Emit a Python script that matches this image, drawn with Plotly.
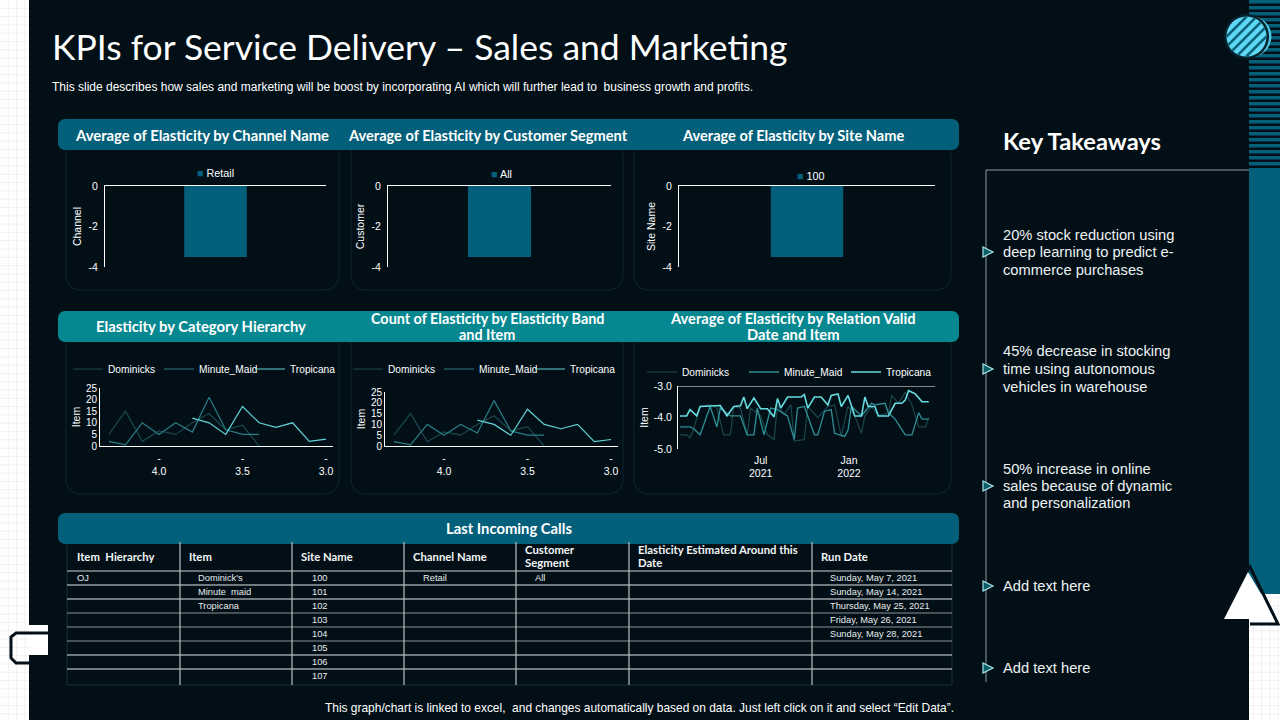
import math
import pandas as pd
import plotly.graph_objects as go

# ---------- data ----------
bar_titles = ["Channel", "Customer", "Site Name"]
bar_names = ["Retail", "All", "100"]
bar_values = [-3.5, -3.5, -3.5]

band_labels = [4.3, 4.2, 4.1, 4.0, 3.9, 3.8, 3.7, 3.6, 3.5, 3.4, 3.3, 3.2, 3.1, 3.0]
band_ticks = [4.0, 3.5, 3.0]
band_ticktext = ["-<br>4.0", "-<br>3.5", "-<br>3.0"]
dominicks_counts = [5, 15, 2, 6.5, 5, 10, 14, 7, 9, 0, None, None, None, None]
minute_counts = [2, 0.5, 10, 5, 10, 6, 21, 7, 5, 5, None, None, None, None]
tropicana_counts = [None, None, None, None, None, 12, 10, 5, 17, 10, 8, 10, 2, 3]

dom_weeks = [0, 2, 3, 4, 6, 9, 11, 13, 15, 16, 18, 20, 21, 24, 26, 28, 29, 31, 33, 34, 37, 38, 41, 44, 46, 48, 50, 52,
             54, 55, 57, 59, 62, 63, 65, 67, 69, 71, 73, 74]
dom_vals = [-4.55, -4.55, -4.65, -4.4, -3.65, -3.6, -3.7, -4.55, -4.55, -3.65, -3.7, -4.55, -3.7, -3.95, -4.55, -4.7,
            -3.6, -3.9, -3.6, -4.75, -4.7, -3.65, -4.0, -3.65, -3.6, -4.6, -3.65, -3.95, -4.5, -3.95, -3.65, -3.95,
            -3.85, -3.3, -3.55, -3.2, -3.6, -4.3, -4.3, -4.0]
min_weeks = [0, 3, 4, 6, 9, 11, 12, 15, 18, 20, 22, 23, 25, 27, 29, 32, 34, 35, 37, 40, 41, 43, 45, 46, 49, 50, 51, 54,
             57, 58, 61, 62, 64, 67, 69, 71, 72, 74]
min_vals = [-4.3, -4.3, -4.35, -4.55, -3.65, -4.3, -3.7, -3.95, -3.95, -4.55, -4.55, -3.7, -4.55, -3.7, -3.75, -3.95,
            -4.7, -3.7, -3.65, -4.55, -4.55, -3.8, -3.75, -4.5, -4.6, -4.4, -3.65, -3.95, -3.55, -3.6, -3.55, -3.85,
            -4.05, -4.55, -4.55, -3.85, -4.05, -4.05]
tro_weeks = [0, 2, 3, 5, 6, 12, 14, 16, 18, 19, 20, 22, 24, 26, 28, 29, 30, 32, 36, 37, 38, 40, 42, 44, 45, 47, 48, 50,
             52, 54, 55, 56, 58, 59, 62, 64, 66, 67, 68, 70, 72, 74]
tro_vals = [-3.95, -3.95, -3.75, -3.95, -3.65, -3.62, -3.95, -3.65, -3.63, -3.35, -3.72, -3.38, -3.72, -3.72, -3.98,
            -3.4, -3.7, -3.35, -3.35, -3.27, -3.7, -3.35, -3.35, -3.6, -3.3, -3.25, -3.65, -3.3, -3.95, -3.95, -3.35,
            -3.65, -3.65, -3.95, -3.95, -3.55, -3.55, -3.45, -3.15, -3.25, -3.5, -3.5]
date_start = "2021-01-14"

table_headers = ["Item  Hierarchy", "Item", "Site Name", "Channel Name", "Customer<br>Segment",
                 "Elasticity Estimated Around this<br>Date", "Run Date"]
col_hierarchy = ["OJ"]
col_item = ["Dominick's", "Minute  maid", "Tropicana"]
col_site = ["100", "101", "102", "103", "104", "105", "106", "107"]
col_channel = ["Retail"]
col_segment = ["All"]
col_rundate = ["Sunday, May 7, 2021", "Sunday, May 14, 2021", "Thursday, May 25, 2021", "Friday, May 26, 2021",
               "Sunday, May 28, 2021"]

takeaways = ["20% stock reduction using<br>deep learning to predict e-<br>commerce purchases",
             "45% decrease in stocking<br>time using autonomous<br>vehicles in warehouse",
             "50% increase in online<br>sales because of dynamic<br>and personalization",
             "Add text here", "Add text here"]

# ---------- style ----------
DARK = "#020f17"
TEAL = "#04607a"
BAND2 = "#07878f"
C_DOM, C_MIN, C_TRO = "#1c474c", "#2a7d84", "#62d3d6"
SANS = "Liberation Sans"
HEAD = "Lato"


def px(x):
    return x / 1280


def py(y):
    return 1 - y / 720


shapes, notes = [], []


def rect(x0, y0, x1, y1, fill, layer="below"):
    shapes.append(dict(type="rect", xref="paper", yref="paper", x0=px(x0), x1=px(x1), y0=py(y0), y1=py(y1),
                       fillcolor=fill, line_width=0, layer=layer))


def line(x0, y0, x1, y1, color, w=1, layer="below"):
    shapes.append(dict(type="line", xref="paper", yref="paper", x0=px(x0), x1=px(x1), y0=py(y0), y1=py(y1),
                       line=dict(color=color, width=w), layer=layer))


def path(points, fill=None, color=None, w=0, layer="above", close=True):
    d = "M " + " L ".join(f"{px(a):.5f},{py(b):.5f}" for a, b in points) + (" Z" if close else "")
    shapes.append(dict(type="path", xref="paper", yref="paper", path=d, fillcolor=fill or "rgba(0,0,0,0)",
                       line=dict(color=color or "rgba(0,0,0,0)", width=w), layer=layer))


def rounded(x0, y0, x1, y1, r, fill=None, color=None, w=0, layer="below"):
    pts = []
    for cx, cy, a0 in [(x1 - r, y0 + r, -90), (x1 - r, y1 - r, 0), (x0 + r, y1 - r, 90), (x0 + r, y0 + r, 180)]:
        for k in range(7):
            a = math.radians(a0 + 15 * k)
            pts.append((cx + r * math.cos(a), cy + r * math.sin(a)))
    path(pts, fill, color, w, layer)


def circle(cx, cy, r, fill, layer="above"):
    shapes.append(dict(type="circle", xref="paper", yref="paper", x0=px(cx - r), x1=px(cx + r), y0=py(cy + r),
                       y1=py(cy - r), fillcolor=fill, line_width=0, layer=layer))


def text(x, y, s, size=11, color="#ffffff", family=SANS, anchor="left", bold=False, lh=None):
    """One annotation per line, so the line spacing can follow the reference."""
    rows = s.split("<br>")
    lh = lh or size * 1.2
    y0 = y - lh * (len(rows) - 1) / 2
    shift = {"left": -2, "right": 2, "center": 0}[anchor]
    for i, row in enumerate(rows):
        notes.append(dict(xref="paper", yref="paper", x=px(x + shift), y=py(y0 + i * lh),
                          text=f"<b>{row}</b>" if bold else row,
                          showarrow=False, xanchor=anchor, yanchor="middle", align=anchor,
                          font=dict(size=size, color=color, family=family)))


# page background and outer grid
GRID = "#f1f1f1"
gx = 8.3
while gx < 1280:
    if gx < 29 or gx > 1249:
        line(gx, 0, gx, 720, GRID)
    gx += 8.3
gy = 8.3
while gy < 720:
    line(0, gy, 29, gy, GRID)
    line(1249, gy, 1280, gy, GRID)
    gy += 8.3
rect(29, 0, 1249, 720, DARK)
rect(1249, 0, 1280, 594, DARK)
rect(1249, 168, 1280, 594, TEAL)
for sy in range(0, 168, 6):
    rect(1249, sy, 1280, sy + 3.5, TEAL)

# panels and header bands
for x0, x1 in [(66, 339), (351, 623), (634, 951)]:
    rounded(x0, 140, x1, 290, 14, None, "#0c2730", 1)
    rounded(x0, 330, x1, 494, 14, None, "#0c2730", 1)
rounded(58, 119, 959, 150, 7, TEAL)
rounded(58, 311, 959, 342, 7, BAND2)
rounded(58, 513, 959, 544, 7, TEAL)

text(52, 47, "KPIs for Service Delivery – Sales and Marketing", 35.5, "#ffffff", HEAD)
text(52, 87, "This slide describes how sales and marketing will be boost by incorporating AI which will further lead to  "
             "business growth and profits.", 12)
for cx, s, fs in [(202, "Average of Elasticity by Channel Name", 14.8),
                  (488, "Average of Elasticity by Customer Segment", 14.6),
                  (793, "Average of Elasticity by Site Name", 14.6)]:
    text(cx, 135, s, fs, family=HEAD, anchor="center", bold=True)
text(201, 326, "Elasticity by Category Hierarchy", 14.8, family=HEAD, anchor="center", bold=True)
text(487, 326, "Count of Elasticity by Elasticity Band<br>and Item", 14.4, family=HEAD, anchor="center", bold=True, lh=16)
text(793, 326, "Average of Elasticity by Relation Valid<br>Date and Item", 14.7, family=HEAD, anchor="center", bold=True,
     lh=16)
text(509, 528, "Last Incoming Calls", 14.8, family=HEAD, anchor="center", bold=True)
text(954, 708, "This graph/chart is linked to excel,  and changes automatically based on data. Just left click on it "
               "and select “Edit Data”.", 11.95, anchor="right")

# ---------- table ----------
col_x = [67, 180, 292, 404, 516, 629, 812, 952]
header_top, header_bottom, row_h = 545, 571, 14
n_rows = len(col_site)
line(col_x[0], 685, col_x[-1], 685, "#17323a")
line(col_x[0], 545, col_x[0], 685, "#17323a")
line(col_x[-1], 545, col_x[-1], 685, "#17323a")
line(col_x[0], header_bottom, col_x[-1], header_bottom, "#8a9498", 1.5)
for r in range(1, n_rows):
    line(col_x[0], header_bottom + r * row_h, col_x[-1], header_bottom + r * row_h,
         "#dfe5e6" if r in (1, 2, 6, 7) else "#8a9498", 1.2)
for c in col_x[1:-1]:
    line(c, 542, c, 685, "#b9c0c2", 1.2)
for i, h in enumerate(table_headers):
    text(col_x[i] + (10 if i == 0 else 9), 556, h, 11.3, "#f2f5f5", HEAD, bold=True, lh=13)
for column, off, ci in [(col_hierarchy, 10, 0), (col_item, 18, 1), (col_site, 20, 2), (col_channel, 19, 3),
                        (col_segment, 19, 4), (col_rundate, 18, 6)]:
    for r, v in enumerate(column):
        text(col_x[ci] + off, header_bottom + (r + .5) * row_h, v, 9.3, "#e8ecec")

# ---------- takeaways ----------
text(1003, 141, "Key Takeaways", 23.7, family=HEAD, bold=True)
line(986, 170, 1249, 170, "#8a9aa0")
line(986, 170, 986, 682, "#8a9aa0")
take_y = [252, 369, 486, 586, 668]
for y, s in zip(take_y, takeaways):
    text(1003, y, s, 14.7, "#eef2f2", lh=17.5)
    path([(983, y - 5), (993, y), (983, y + 5)], "#0d5e66", "#a8e4ea", 1.2)

# ---------- decorations ----------
cx, cy, cr = 1246.5, 36.5, 20
circle(1251, cy, 20.5, "#4fc4de")
circle(cx, cy, 22.5, "#06222c")
circle(cx, cy, cr, "#5fd8f5")
for off in range(-21, 22, 7):
    half = math.sqrt(max(cr * cr - off * off, 0))
    ux, uy = math.sqrt(.5), -math.sqrt(.5)
    nx, ny = math.sqrt(.5), math.sqrt(.5)
    path([(cx + nx * off - ux * half, cy + ny * off - uy * half), (cx + nx * off + ux * half, cy + ny * off + uy * half)],
         None, "#0c5f78", 2.6, close=False)
path([(1248, 572), (1224, 619), (1276, 619)], "#ffffff", None, 0)
path([(1249, 565), (1278, 624), (1250, 624)], None, "#020f17", 3, close=False)
rect(29, 625, 48, 655, "#ffffff", "above")
path([(48, 633), (16, 633), (11, 637), (11, 658), (16, 663), (29, 663)], None, "#020f17", 3, close=False)

# ---------- figure ----------
fig = go.Figure()
layout = {}


def axes(n, x0, x1, y0, y1):
    layout[f"xaxis{n}"] = dict(domain=[px(x0), px(x1)], anchor=f"y{n}", showgrid=False, zeroline=False, showline=True,
                               linecolor="#ffffff", linewidth=1, ticks="", color="#ffffff",
                               tickfont=dict(size=10.5, family=SANS, color="#ffffff"))
    layout[f"yaxis{n}"] = dict(domain=[py(y1), py(y0)], anchor=f"x{n}", showgrid=False, zeroline=False, showline=True,
                               linecolor="#ffffff", linewidth=1, ticks="", color="#ffffff",
                               tickfont=dict(size=10.5, family=SANS, color="#ffffff"))


def legend(name, x, y, entry):
    layout[name] = dict(x=px(x), y=py(y), xanchor="left", yanchor="middle", orientation="h", bgcolor="rgba(0,0,0,0)",
                        font=dict(size=10.2, family=SANS, color="#ffffff"), itemwidth=30, entrywidth=entry,
                        entrywidthmode="pixels")


# bar charts
bar_geom = [(105, 326, 186, 267, 215, 173), (388, 611, 186, 267, 501, 174), (679, 935, 186, 267, 811, 176)]
for i, (x0, x1, y0, y1, lx, ly) in enumerate(bar_geom):
    n = i + 1
    axes(n, x0, x1, y0, y1)
    layout[f"xaxis{n}"].update(showticklabels=False, type="category", side="top")
    layout[f"yaxis{n}"].update(range=[-4, 0], tickvals=[-4, -2, 0], ticktext=["-4", "-2", "0"],
                               title=dict(text=bar_titles[i], font=dict(size=10.5, family=SANS, color="#ffffff"),
                                          standoff=4), ticklabelstandoff=4)
    fig.add_trace(go.Bar(x=[bar_names[i]], y=[bar_values[i]], name=bar_names[i], marker=dict(color=TEAL, line_width=0),
                         width=[.283], xaxis=f"x{n}", yaxis=f"y{n}", showlegend=False))
    notes.append(dict(xref="paper", yref="paper", x=px(lx), y=py(ly), showarrow=False, xanchor="center",
                      yanchor="middle", font=dict(size=10.8, family=SANS, color="#ffffff"),
                      text=f'<span style="color:{TEAL}">■</span> {bar_names[i]}'))

# band line charts
line_geom = [(100, 333, 388, 446, 68, 369), (385, 618, 392, 446, 348, 369)]
for i, (x0, x1, y0, y1, lx, ly) in enumerate(line_geom):
    n = i + 4
    axes(n, x0, x1, y0, y1)
    layout[f"xaxis{n}"].update(range=[4.353, 2.958], tickvals=band_ticks, ticktext=band_ticktext, ticklabelstandoff=2)
    layout[f"yaxis{n}"].update(range=[0, 25], tickvals=[0, 5, 10, 15, 20, 25],
                               tickfont=dict(size=10, family=SANS, color="#ffffff"),
                               title=dict(text="Item", font=dict(size=10.5, family=SANS, color="#ffffff"), standoff=3))
    leg = f"legend{n}"
    legend(leg, lx, ly, 46)
    for nm, vals, col in [("Dominicks", dominicks_counts, C_DOM), ("Minute_Maid", minute_counts, C_MIN),
                          ("Tropicana", tropicana_counts, C_TRO)]:
        fig.add_trace(go.Scatter(x=band_labels, y=vals, name=nm, mode="lines", line=dict(color=col, width=1.2),
                                 xaxis=f"x{n}", yaxis=f"y{n}", legend=leg))

# date line chart
axes(6, 678, 935, 386, 449)
start = pd.Timestamp(date_start)
to_dates = lambda wk: [(start + pd.Timedelta(weeks=w)).strftime("%Y-%m-%d") for w in wk]
layout["xaxis6"].update(type="date", showline=False, tickvals=["2021-07-01", "2022-01-01"],
                        ticktext=["Jul<br>2021", "Jan<br>2022"], ticklabelstandoff=3,
                        range=[(start - pd.Timedelta(weeks=.5)).strftime("%Y-%m-%d"),
                               (start + pd.Timedelta(weeks=75.9)).strftime("%Y-%m-%d")])
layout["yaxis6"].update(range=[-5, -3], tickvals=[-5, -4, -3], ticktext=["-5.0", "-4.0", "-3.0"], ticklabelstandoff=3,
                        title=dict(text="Item", font=dict(size=10.5, family=SANS, color="#ffffff"), standoff=3))
legend("legend6", 642, 372, 57)
for nm, wk, vals, col, w in [("Dominicks", dom_weeks, dom_vals, C_DOM, 1.2),
                             ("Minute_Maid", min_weeks, min_vals, "#2f8f96", 1.3),
                             ("Tropicana", tro_weeks, tro_vals, "#66dde0", 1.6)]:
    fig.add_trace(go.Scatter(x=to_dates(wk), y=vals, name=nm, mode="lines", line=dict(color=col, width=w),
                             xaxis="x6", yaxis="y6", legend="legend6"))
shapes.append(dict(type="line", xref="x6 domain", yref="y6", x0=0, x1=1, y0=-3, y1=-3,
                   line=dict(color="#ffffff", width=1)))

fig.update_layout(width=1280, height=720, margin=dict(l=0, r=0, t=0, b=0, autoexpand=False), autosize=False,
                  paper_bgcolor="#ffffff", plot_bgcolor="rgba(0,0,0,0)", shapes=shapes, annotations=notes,
                  font=dict(family=SANS, color="#ffffff"), **layout)
fig.write_html("out.html", config={"displayModeBar": False},
               post_script="document.body.style.margin='0';document.body.style.overflow='hidden';")
